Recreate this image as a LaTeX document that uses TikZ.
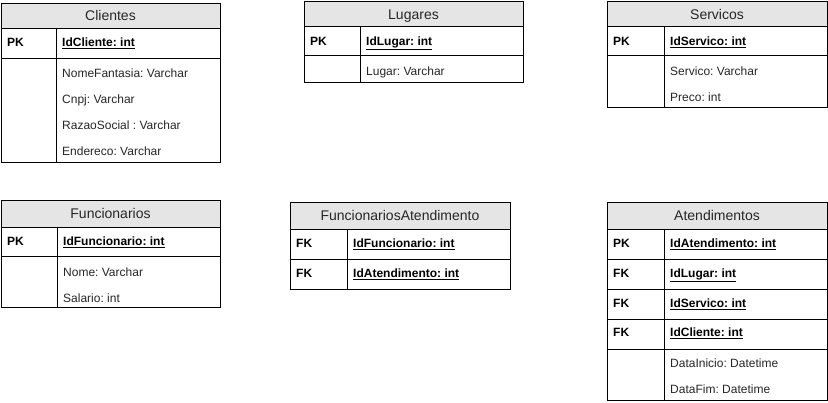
\documentclass[tikz,border=0pt]{standalone}
\usepackage{fontspec}
\setmainfont{Liberation Sans}
\frenchspacing
\begin{document}
\begin{tikzpicture}[x=1pt,y=-1pt,
 cell/.style={draw=black, line width=0.9pt, inner sep=0pt, outer sep=0pt, anchor=north west},
 hcell/.style={cell, fill=gray!20},
 htxt/.style={inner sep=0pt, anchor=base, font=\frenchspacing\fontsize{14}{16}\selectfont, text=black!85},
 ktxt/.style={inner sep=0pt, anchor=base west, font=\frenchspacing\bfseries\fontsize{12}{14}\selectfont},
 atxt/.style={inner sep=0pt, anchor=base west, font=\frenchspacing\fontsize{12}{14}\selectfont, text=black!85},
]
\useasboundingbox (0,0) rectangle (828,403);

% ---------- Clientes ----------
\node[hcell, minimum width=219pt, minimum height=25.5pt] (cliH) at (1,3) {};
\node[cell, minimum width=55pt, minimum height=30pt] (cliK1) at (cliH.south west) {};
\node[cell, minimum width=164pt, minimum height=30pt] (cliF1) at (cliK1.north east) {};
\node[cell, minimum width=55pt, minimum height=103.5pt] (cliK2) at (cliK1.south west) {};
\node[cell, minimum width=164pt, minimum height=103.5pt] (cliF2) at (cliK2.north east) {};
\node[htxt] (cliHt) at (110.5,20.5) {Clientes};
\node[ktxt] (cliK1t) at (7,47) {PK};
\node[ktxt] (cliF1t) at (62,47) {\underline{IdCliente: int}};
\node[atxt] (cliA1) at (62,77.3) {NomeFantasia: Varchar};
\node[atxt] (cliA2) at (62,103.3) {Cnpj: Varchar};
\node[atxt] (cliA3) at (62,129.3) {RazaoSocial : Varchar};
\node[atxt] (cliA4) at (62,155.3) {Endereco: Varchar};

% ---------- Lugares ----------
\node[hcell, minimum width=219pt, minimum height=25.5pt] (lugH) at (304,1) {};
\node[cell, minimum width=56pt, minimum height=29pt] (lugK1) at (lugH.south west) {};
\node[cell, minimum width=163pt, minimum height=29pt] (lugF1) at (lugK1.north east) {};
\node[cell, minimum width=56pt, minimum height=26.5pt] (lugK2) at (lugK1.south west) {};
\node[cell, minimum width=163pt, minimum height=26.5pt] (lugF2) at (lugK2.north east) {};
\node[htxt] (lugHt) at (413.5,19.5) {Lugares};
\node[ktxt] (lugK1t) at (310,45.3) {PK};
\node[ktxt] (lugF1t) at (366,45.3) {\underline{IdLugar: int}};
\node[atxt] (lugA1) at (366,75.3) {Lugar: Varchar};

% ---------- Servicos ----------
\node[hcell, minimum width=220pt, minimum height=25.5pt] (serH) at (607,1) {};
\node[cell, minimum width=57pt, minimum height=29pt] (serK1) at (serH.south west) {};
\node[cell, minimum width=163pt, minimum height=29pt] (serF1) at (serK1.north east) {};
\node[cell, minimum width=57pt, minimum height=51.5pt] (serK2) at (serK1.south west) {};
\node[cell, minimum width=163pt, minimum height=51.5pt] (serF2) at (serK2.north east) {};
\node[htxt] (serHt) at (717,19.3) {Servicos};
\node[ktxt] (serK1t) at (613,45.5) {PK};
\node[ktxt] (serF1t) at (670,45.5) {\underline{IdServico: int}};
\node[atxt] (serA1) at (670,75.2) {Servico: Varchar};
\node[atxt] (serA2) at (670,101.4) {Preco: int};

% ---------- Funcionarios ----------
\node[hcell, minimum width=219pt, minimum height=27pt] (funH) at (1,200) {};
\node[cell, minimum width=56pt, minimum height=29.5pt] (funK1) at (funH.south west) {};
\node[cell, minimum width=163pt, minimum height=29.5pt] (funF1) at (funK1.north east) {};
\node[cell, minimum width=56pt, minimum height=50.5pt] (funK2) at (funK1.south west) {};
\node[cell, minimum width=163pt, minimum height=50.5pt] (funF2) at (funK2.north east) {};
\node[htxt] (funHt) at (110.5,219) {Funcionarios};
\node[ktxt] (funK1t) at (7,245.3) {PK};
\node[ktxt] (funF1t) at (63,245.3) {\underline{IdFuncionario: int}};
\node[atxt] (funA1) at (63,276.3) {Nome: Varchar};
\node[atxt] (funA2) at (63,302.3) {Salario: int};

% ---------- FuncionariosAtendimento ----------
\node[hcell, minimum width=220pt, minimum height=27.5pt] (faH) at (290,202) {};
\node[cell, minimum width=57pt, minimum height=30pt] (faK1) at (faH.south west) {};
\node[cell, minimum width=163pt, minimum height=30pt] (faF1) at (faK1.north east) {};
\node[cell, minimum width=57pt, minimum height=30pt] (faK2) at (faK1.south west) {};
\node[cell, minimum width=163pt, minimum height=30pt] (faF2) at (faK2.north east) {};
\node[htxt] (faHt) at (400,221) {FuncionariosAtendimento};
\node[ktxt] (faK1t) at (296,247.5) {FK};
\node[ktxt] (faF1t) at (353,247.5) {\underline{IdFuncionario: int}};
\node[ktxt] (faK2t) at (296,277.5) {FK};
\node[ktxt] (faF2t) at (353,277.5) {\underline{IdAtendimento: int}};

% ---------- Atendimentos ----------
\node[hcell, minimum width=220pt, minimum height=27.5pt] (atH) at (607,202) {};
\node[cell, minimum width=57pt, minimum height=30pt] (atK1) at (atH.south west) {};
\node[cell, minimum width=163pt, minimum height=30pt] (atF1) at (atK1.north east) {};
\node[cell, minimum width=57pt, minimum height=30pt] (atK2) at (atK1.south west) {};
\node[cell, minimum width=163pt, minimum height=30pt] (atF2) at (atK2.north east) {};
\node[cell, minimum width=57pt, minimum height=30pt] (atK3) at (atK2.south west) {};
\node[cell, minimum width=163pt, minimum height=30pt] (atF3) at (atK3.north east) {};
\node[cell, minimum width=57pt, minimum height=30pt] (atK4) at (atK3.south west) {};
\node[cell, minimum width=163pt, minimum height=30pt] (atF4) at (atK4.north east) {};
\node[cell, minimum width=57pt, minimum height=50.5pt] (atK5) at (atK4.south west) {};
\node[cell, minimum width=163pt, minimum height=50.5pt] (atF5) at (atK5.north east) {};
\node[htxt] (atHt) at (717,221) {Atendimentos};
\node[ktxt] (atK1t) at (613,247.3) {PK};
\node[ktxt] (atF1t) at (670,247.3) {\underline{IdAtendimento: int}};
\node[ktxt] (atK2t) at (613,277.3) {FK};
\node[ktxt] (atF2t) at (670,277.3) {\underline{IdLugar: int}};
\node[ktxt] (atK3t) at (613,307.3) {FK};
\node[ktxt] (atF3t) at (670,307.3) {\underline{IdServico: int}};
\node[ktxt] (atK4t) at (613,337) {FK};
\node[ktxt] (atF4t) at (670,337) {\underline{IdCliente: int}};
\node[atxt] (atA1) at (670,367.3) {DataInicio: Datetime};
\node[atxt] (atA2) at (670,393.5) {DataFim: Datetime};

\end{tikzpicture}
\end{document}
